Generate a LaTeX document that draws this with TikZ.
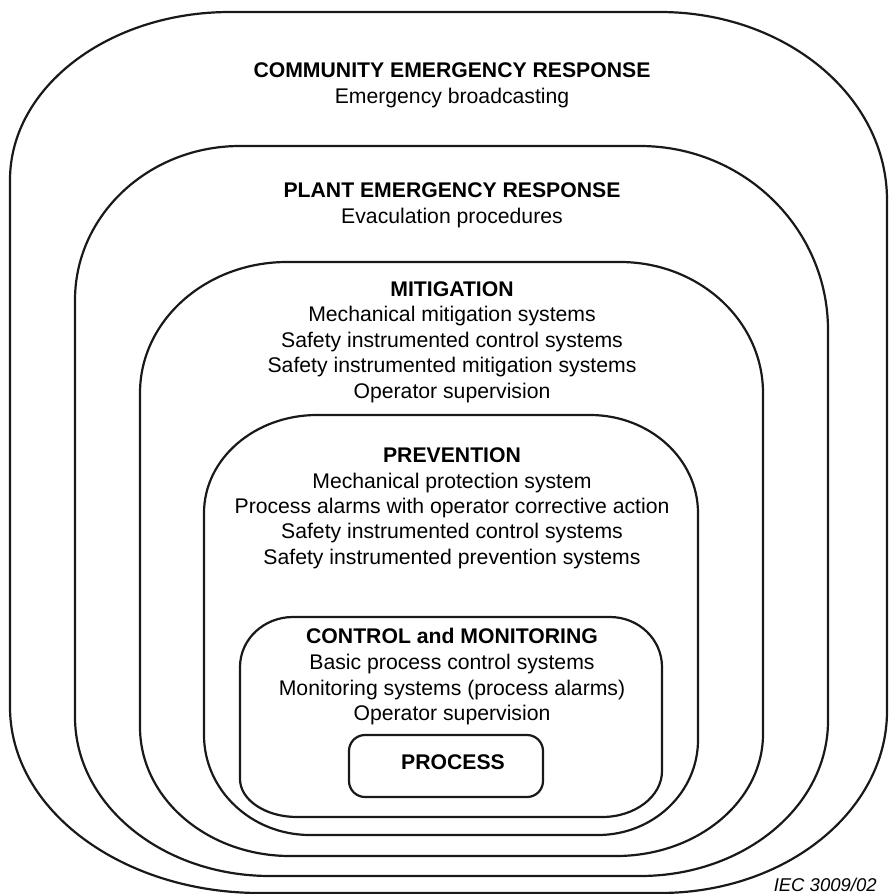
\documentclass[tikz,border=0pt]{standalone}
\usepackage{fontspec}
\setmainfont{Liberation Sans}
\begin{document}
\begin{tikzpicture}[x=0.5pt,y=-0.5pt,
  layer/.style={draw=black!90, line width=1.1pt, line join=round},
  txt/.style={anchor=base, inner sep=0pt, font=\fontsize{10.6pt}{12pt}\selectfont},
  hdr/.style={anchor=base, inner sep=0pt, font=\fontsize{10.6pt}{12pt}\selectfont\bfseries},
  note/.style={anchor=base east, inner sep=0pt, font=\fontsize{9.25pt}{11pt}\selectfont\itshape}]
\useasboundingbox (0,0) rectangle (889,894);
% community
\draw[layer] (230,12) -- (660,12)
  arc[start angle=-90, end angle=0, x radius=227, y radius=188] -- (887,711)
  arc[start angle=0, end angle=90, x radius=227, y radius=182] -- (260,893)
  arc[start angle=90, end angle=180, x radius=250, y radius=186] -- (10,180)
  arc[start angle=180, end angle=270, x radius=220, y radius=168] -- cycle;
% plant
\draw[layer] (240,146) -- (640,146)
  arc[start angle=-90, end angle=0, x radius=188, y radius=184] -- (828,721)
  arc[start angle=0, end angle=90, x radius=188, y radius=155] -- (270,876)
  arc[start angle=90, end angle=180, x radius=195, y radius=159] -- (75,300)
  arc[start angle=180, end angle=270, x radius=165, y radius=154] -- cycle;
% mitigation
\draw[layer] (287,262) -- (620,262)
  arc[start angle=-90, end angle=0, x radius=143, y radius=131] -- (763,734)
  arc[start angle=0, end angle=90, x radius=147, y radius=122] -- (290,856)
  arc[start angle=90, end angle=180, x radius=150, y radius=129] -- (140,393)
  arc[start angle=180, end angle=270, x radius=147, y radius=131] -- cycle;
% prevention
\draw[layer] (317,415) -- (590,415)
  arc[start angle=-90, end angle=0, x radius=108, y radius=98] -- (698,740)
  arc[start angle=0, end angle=90, x radius=100, y radius=95] -- (310,835)
  arc[start angle=90, end angle=180, x radius=106, y radius=100] -- (204,513)
  arc[start angle=180, end angle=270, x radius=113, y radius=98] -- cycle;
% control and monitoring
\draw[layer] (293,617) -- (610,617)
  arc[start angle=-90, end angle=0, x radius=52, y radius=50] -- (662,771)
  arc[start angle=0, end angle=90, x radius=60, y radius=46] -- (297,817)
  arc[start angle=90, end angle=180, x radius=57, y radius=38] -- (240,667)
  arc[start angle=180, end angle=270, x radius=53, y radius=50] -- cycle;
% process
\draw[layer, rounded corners=8pt] (349,735) rectangle (543,797);

\node[hdr] (c1) at (452,77) {COMMUNITY EMERGENCY RESPONSE};
\node[txt] (c2) at (452,103) {Emergency broadcasting};

\node[hdr] (p1) at (452,197) {PLANT EMERGENCY RESPONSE};
\node[txt] (p2) at (452,223) {Evaculation procedures};

\node[hdr] (m1) at (452,296) {MITIGATION};
\node[txt] (m2) at (452,321.5) {Mechanical mitigation systems};
\node[txt] (m3) at (452,347) {Safety instrumented control systems};
\node[txt] (m4) at (452,372.5) {Safety instrumented mitigation systems};
\node[txt] (m5) at (452,398) {Operator supervision};

\node[hdr] (v1) at (452,462) {PREVENTION};
\node[txt] (v2) at (452,488) {Mechanical protection system};
\node[txt] (v3) at (452,513) {Process alarms with operator corrective action};
\node[txt] (v4) at (452,538.5) {Safety instrumented control systems};
\node[txt] (v5) at (452,564) {Safety instrumented prevention systems};

\node[hdr] (k1) at (452,643) {CONTROL and MONITORING};
\node[txt] (k2) at (452,669) {Basic process control systems};
\node[txt] (k3) at (452,695) {Monitoring systems (process alarms)};
\node[txt] (k4) at (452,720) {Operator supervision};

\node[hdr] (pr) at (453,769) {PROCESS};

\node[note] (iec) at (877,891) {IEC 3009/02};
\end{tikzpicture}
\end{document}
